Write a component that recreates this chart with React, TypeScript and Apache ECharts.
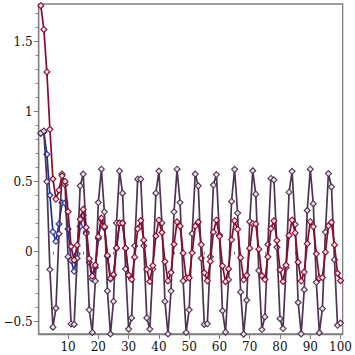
import React, { useEffect, useRef } from "react";
import * as echarts from "echarts";

const redSeries = [
  1.757, 1.587, 1.284, 0.874, 0.519, 0.376, 0.439, 0.542, 0.502, 0.286,
  0.037, -0.061, 0.046, 0.231, 0.302, 0.173, -0.05, -0.174, -0.096, 0.107,
  0.24, 0.179, -0.026, -0.19, -0.163, 0.027, 0.204, 0.204, 0.025, -0.167,
  -0.198, -0.039, 0.163, 0.222, 0.082, -0.126, -0.213, -0.099, 0.112, 0.225,
  0.137, -0.071, -0.209, -0.149, 0.053, 0.213, 0.182, -0.011, -0.188, -0.187,
  -0.008, 0.183, 0.212, 0.051, -0.151, -0.208, -0.07, 0.139, 0.225, 0.11,
  -0.102, -0.214, -0.123, 0.085, 0.221, 0.16, -0.043, -0.201, -0.169, 0.025,
  0.2, 0.198, 0.018, -0.172, -0.199, -0.037, 0.165, 0.22, 0.08, -0.129,
  -0.213, -0.096, 0.116, 0.226, 0.134, -0.075, -0.21, -0.146, 0.057, 0.214,
  0.179, -0.015, -0.189, -0.185, -0.004, 0.185, 0.21, 0.048, -0.154, -0.207,
];

const blueSeries = [
  0.846, 0.855, 0.695, 0.403, 0.142, 0.074, 0.198, 0.349, 0.347, 0.162,
  -0.062, -0.14, -0.017, 0.18, 0.261, 0.141, -0.075, -0.195, -0.113, 0.094,
  0.229, 0.17, -0.033, -0.195, -0.167, 0.025, 0.203, 0.203, 0.024, -0.168,
];

const purpleSeries = [
  0.846, 0.862, 0.501, -0.128, -0.539, -0.404, 0.128, 0.555, 0.478, -0.036,
  -0.516, -0.52, -0.047, 0.47, 0.554, 0.129, -0.415, -0.577, -0.21, 0.351,
  0.589, 0.285, -0.28, -0.588, -0.355, 0.205, 0.576, 0.418, -0.124, -0.553,
  -0.473, 0.042, 0.518, 0.518, 0.042, -0.473, -0.553, -0.124, 0.418, 0.576,
  0.205, -0.355, -0.588, -0.281, 0.285, 0.589, 0.351, -0.209, -0.577, -0.415,
  0.129, 0.554, 0.47, -0.047, -0.52, -0.515, -0.037, 0.476, 0.551, 0.119,
  -0.422, -0.575, -0.2, 0.359, 0.588, 0.276, -0.289, -0.589, -0.347, 0.214,
  0.578, 0.411, -0.135, -0.556, -0.466, 0.052, 0.523, 0.513, 0.031, -0.479,
  -0.549, -0.114, 0.425, 0.574, 0.195, -0.363, -0.587, -0.271, 0.294, 0.589,
  0.343, -0.219, -0.579, -0.407, 0.14, 0.558, 0.463, -0.057, -0.526, -0.51,
];

const xMajorTicks = [10, 20, 30, 40, 50, 60, 70, 80, 90, 100];
const xMinorTicks = [5, 15, 25, 35, 45, 55, 65, 75, 85, 95];
const yMajorTicks = [-0.5, 0, 0.5, 1, 1.5];
const yMinorTicks = [-0.4, -0.3, -0.2, -0.1, 0.1, 0.2, 0.3, 0.4, 0.6, 0.7, 0.8, 0.9, 1.1, 1.2, 1.3, 1.4, 1.6, 1.7];

const AXIS_GRAY = "#7f7f7f";
const FONT = "DejaVu Serif";

function toPoints(arr: number[]) {
  return arr.map((v, i) => [i + 1, v]);
}

function lineSeries(name: string, arr: number[], color: string, z: number) {
  return {
    name,
    type: "line",
    data: toPoints(arr),
    xAxisIndex: 0,
    yAxisIndex: 0,
    symbol: "diamond",
    symbolSize: 6,
    showSymbol: true,
    clip: false,
    z,
    lineStyle: { color, width: 1.7 },
    itemStyle: { color: "#eadde6", borderColor: color, borderWidth: 1.1 },
    emphasis: { disabled: true },
  };
}

export default function App() {
  const ref = useRef<HTMLDivElement>(null);
  useEffect(() => {
    if (!ref.current) return;
    const chart = echarts.init(ref.current, null, { renderer: "svg" });
    const fmtY = (v: number) => (v < 0 ? "\u2212" + String(Math.abs(v)) : String(v));
    chart.setOption({
      animation: false,
      grid: {
        left: 38.7,
        right: 4.5,
        top: 4,
        bottom: 21,
        show: true,
        borderColor: AXIS_GRAY,
        borderWidth: 1.3,
        backgroundColor: "transparent",
      },
      xAxis: [
        {
          type: "value",
          min: 0.3,
          max: 100.7,
          position: "bottom",
          axisLine: { show: true, onZero: false, lineStyle: { color: AXIS_GRAY, width: 1.3 } },
          axisTick: { show: true, length: 5, customValues: xMajorTicks, lineStyle: { color: AXIS_GRAY, width: 1 } },
          axisLabel: { show: true, customValues: xMajorTicks, color: "#111", fontFamily: FONT, fontSize: 12, margin: 7 },
          splitLine: { show: false },
        },
        {
          type: "value",
          min: 0.3,
          max: 100.7,
          position: "bottom",
          axisLine: { show: false },
          axisTick: { show: true, length: 3, customValues: xMinorTicks, lineStyle: { color: AXIS_GRAY, width: 1 } },
          axisLabel: { show: false },
          splitLine: { show: false },
        },
      ],
      yAxis: [
        {
          type: "value",
          min: -0.588,
          max: 1.769,
          position: "left",
          axisLine: { show: true, onZero: false, lineStyle: { color: AXIS_GRAY, width: 1.3 } },
          axisTick: { show: true, length: 5, customValues: yMajorTicks, lineStyle: { color: AXIS_GRAY, width: 1 } },
          axisLabel: { show: true, customValues: yMajorTicks, formatter: fmtY, color: "#111", fontFamily: FONT, fontSize: 12, margin: 6 },
          splitLine: { show: false },
        },
        {
          type: "value",
          min: -0.588,
          max: 1.769,
          position: "left",
          axisLine: { show: false },
          axisTick: { show: true, length: 3, customValues: yMinorTicks, lineStyle: { color: AXIS_GRAY, width: 1 } },
          axisLabel: { show: false },
          splitLine: { show: false },
        },
      ],
      series: [
        lineSeries("blue", blueSeries, "#1a2fa0", 2),
        lineSeries("purple", purpleSeries, "#4e3352", 3),
        lineSeries("red", redSeries, "#8c0a2a", 4),
      ],
    });
    return () => chart.dispose();
  }, []);
  return (
    <div
      ref={ref}
      style={{ position: "fixed", left: 0, top: 0, width: 355, height: 355, background: "#fff" }}
    />
  );
}
